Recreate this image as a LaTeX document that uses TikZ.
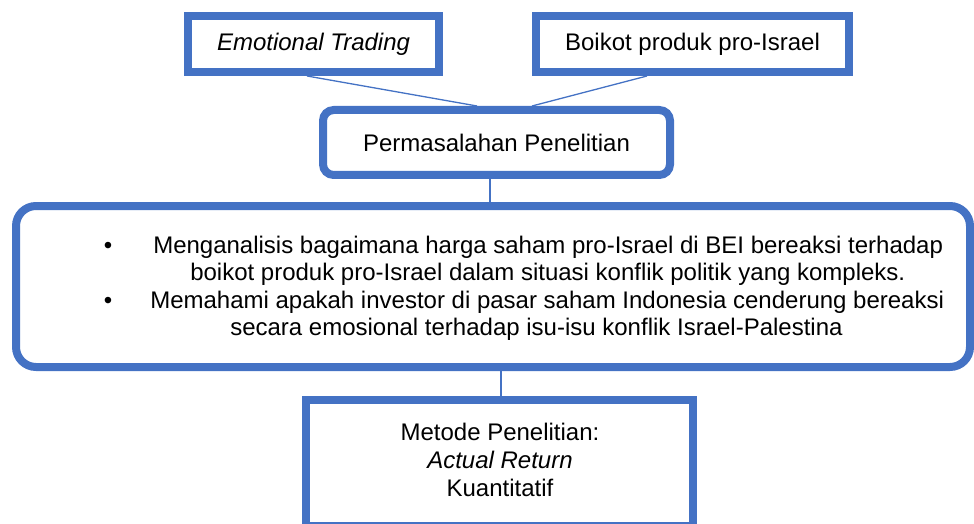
\documentclass[tikz,border=0pt]{standalone}
\usepackage{fontspec}
\setmainfont{Liberation Sans}
\newlength\pxu
\setlength\pxu{0.75pt}
\definecolor{wordblue}{RGB}{68,114,196}
\tikzset{
  boxstyle/.style={draw=wordblue, line width=8\pxu, fill=white, inner sep=0pt, text=black, font=\fontsize{18pt}{21pt}\selectfont},
  roundbox/.style={boxstyle, rounded corners=#1},
  txt/.style={inner sep=0pt, text=black, font=\fontsize{18pt}{21pt}\selectfont},
  conn/.style={draw=wordblue, line width=1.3\pxu}
}
\begin{document}
\begin{tikzpicture}[x=0.75pt, y=-0.75pt]
\useasboundingbox (0,0) rectangle (974,524);
\clip (0,0) rectangle (974,524);
% boxes
\node[boxstyle, minimum width=251\pxu, minimum height=56\pxu] (emo) at (313.5,44) {\itshape Emotional Trading};
\node[boxstyle, minimum width=313\pxu, minimum height=56\pxu] (boi) at (692.5,44) {Boikot produk pro-Israel};
\node[roundbox=8pt, minimum width=347\pxu, minimum height=65\pxu] (perm) at (496.5,142.5) {Permasalahan Penelitian};
\node[roundbox=15pt, minimum width=954\pxu, minimum height=161\pxu] (big) at (493,286.5) {};
\node[boxstyle, minimum width=387\pxu, minimum height=126\pxu] (met) at (499.5,463) {};
% connectors
\draw[conn] ([xshift=-6.5\pxu]emo.south) -- ([xshift=-19.5\pxu]perm.north);
\draw[conn] ([xshift=-45.5\pxu]boi.south) -- ([xshift=35.5\pxu]perm.north);
\draw[conn] ([xshift=-6.5\pxu]perm.south) -- ([xshift=-6.5\pxu]perm.south |- big.north);
\draw[conn] ([xshift=1.5\pxu]met.north |- big.south) -- ([xshift=1.5\pxu]met.north);
% bullet text
\node[txt, anchor=base] (d1) at (108,253) {•};
\node[txt, anchor=base west] (l1) at (153,253) {Menganalisis bagaimana harga saham pro-Israel di BEI bereaksi terhadap};
\node[txt, anchor=base west] (l2) at (190,280.5) {boikot produk pro-Israel dalam situasi konflik politik yang kompleks.};
\node[txt, anchor=base] (d2) at (108,308) {•};
\node[txt, anchor=base west] (l3) at (150,308) {Memahami apakah investor di pasar saham Indonesia cenderung bereaksi};
\node[txt, anchor=base west] (l4) at (230,335.5) {secara emosional terhadap isu-isu konflik Israel-Palestina};
% metode text
\node[txt, anchor=base] (m1) at (500,440) {Metode Penelitian:};
\node[txt, anchor=base] (m2) at (500,468) {\itshape Actual Return};
\node[txt, anchor=base] (m3) at (500,496) {Kuantitatif};
\end{tikzpicture}
\end{document}
